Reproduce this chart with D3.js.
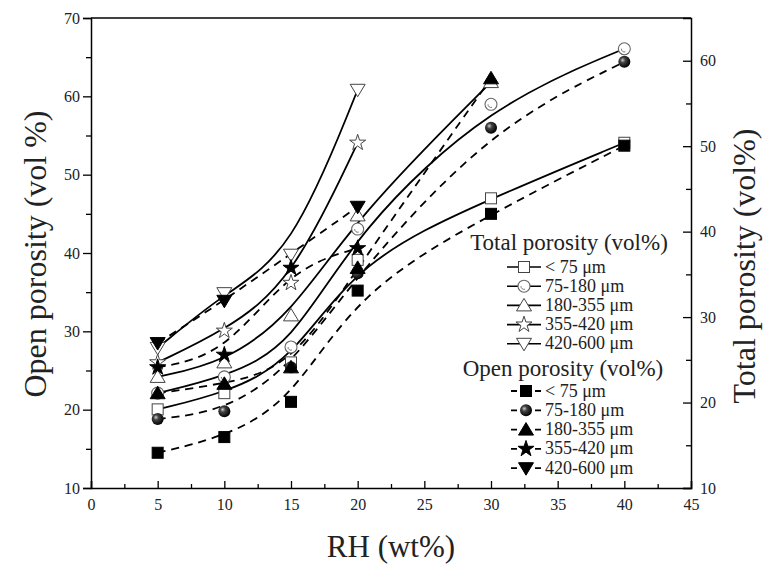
<!DOCTYPE html>
<html>
<head>
<meta charset="utf-8">
<script src="https://cdn.jsdelivr.net/npm/d3@7"></script>
<style>
body{margin:0;background:#fff;}
svg text{font-family:"Liberation Serif","Times New Roman",serif;fill:#222;}
</style>
</head>
<body>
<svg id="chart" width="766" height="567"></svg>
<script>
// ---------- data ----------
const sizeLabels = ["< 75 μm","75-180 μm","180-355 μm","355-420 μm","420-600 μm"];
const rhLt75   = [5,10,15,20,30,40];
const rh75_180 = [5,10,15,20,30,40];
const rh180_355= [5,10,15,20,30];
const rh355_420= [5,10,15,20];
const rh420_600= [5,10,15,20];
const rhOpen420_600 = [5,10,20];

// Total porosity (right axis, vol%)
const totalLt75    = [19.2,21.1,24.7,36.7,43.9,50.4];
const total75_180  = [21.1,23.0,26.5,40.3,54.9,61.4];
const total180_355 = [23.0,24.7,30.2,41.9,57.5];
const total355_420 = [24.7,28.4,34.0,50.4];
const total420_600 = [26.4,32.8,37.3,56.6];

// Open porosity (left axis, vol %)
const openLt75    = [14.5,16.5,21.0,35.2,45.0,53.7];
const open75_180  = [18.8,19.8,25.4,37.4,56.0,64.4];
const open180_355 = [22.1,23.3,25.4,38.1,62.3];
const open355_420 = [25.4,27.0,38.1,40.6];
const open420_600 = [28.5,33.9,45.9];

const xTicks = [0,5,10,15,20,25,30,35,40,45];
const yLeftTicks = [10,20,30,40,50,60,70];
const yRightTicks = [10,20,30,40,50,60];

const markerTypes = ["square","sphere","triangle","star","down"];

const totalSeries = [
  {x:rhLt75, y:totalLt75, m:"square"},
  {x:rh75_180, y:total75_180, m:"sphere"},
  {x:rh180_355, y:total180_355, m:"triangle"},
  {x:rh355_420, y:total355_420, m:"star"},
  {x:rh420_600, y:total420_600, m:"down"}
];
const openSeries = [
  {x:rhLt75, y:openLt75, m:"square"},
  {x:rh75_180, y:open75_180, m:"sphere"},
  {x:rh180_355, y:open180_355, m:"triangle"},
  {x:rh355_420, y:open355_420, m:"star"},
  {x:rhOpen420_600, y:open420_600, m:"down"}
];

// ---------- layout ----------
const svg = d3.select("#chart");
const L=91, R=691, T=18, B=488;
const x = d3.scaleLinear().domain([0,45]).range([L,R]);
const yL = d3.scaleLinear().domain([10,70]).range([B,T]);
const yR = d3.scaleLinear().domain([10,65]).range([B,T]);

const defs = svg.append("defs");
const grad = defs.append("radialGradient").attr("id","sph").attr("cx","40%").attr("cy","40%").attr("r","60%").attr("fx","35%").attr("fy","35%");
grad.append("stop").attr("offset","0%").attr("stop-color","#cfcfcf");
grad.append("stop").attr("offset","35%").attr("stop-color","#444");
grad.append("stop").attr("offset","100%").attr("stop-color","#000");

// ---------- axes ----------
const fs = 16;
// bottom
const xAxis = svg.append("g").attr("transform",`translate(0,${B})`)
  .call(d3.axisBottom(x).tickValues(xTicks).tickSize(-7).tickFormat(d3.format("d")));
svg.append("g").attr("transform",`translate(0,${B})`)
  .call(d3.axisBottom(x).tickValues(d3.range(2.5,45,5)).tickSize(-4).tickFormat(""))
  .select(".domain").remove();
xAxis.selectAll("text").attr("dy","1.2em").style("font-size",fs+"px");
// left
const yAxisL = svg.append("g").attr("transform",`translate(${L},0)`)
  .call(d3.axisLeft(yL).tickValues(yLeftTicks).tickSize(8).tickFormat(d3.format("d")));
svg.append("g").attr("transform",`translate(${L},0)`)
  .call(d3.axisLeft(yL).tickValues(d3.range(15,70,10)).tickSize(5).tickFormat(""))
  .select(".domain").remove();
yAxisL.selectAll("text").style("font-size",fs+"px").attr("x",-11);
// right
const yAxisR = svg.append("g").attr("transform",`translate(${R},0)`)
  .call(d3.axisRight(yR).tickValues(yRightTicks).tickSize(-8).tickFormat(d3.format("d")));
svg.append("g").attr("transform",`translate(${R},0)`)
  .call(d3.axisRight(yR).tickValues(d3.range(15,65,10)).tickSize(-5).tickFormat(""))
  .select(".domain").remove();
yAxisR.selectAll("text").style("font-size",fs+"px").attr("x",9);
// top frame
svg.append("line").attr("x1",L).attr("x2",R).attr("y1",T).attr("y2",T).attr("stroke","#000").attr("stroke-width",1.5);
svg.selectAll(".domain").attr("stroke","#000").attr("stroke-width",1.5);
svg.selectAll(".tick line").attr("stroke","#000").attr("stroke-width",1.3);

// titles
svg.append("text").attr("x",(L+R)/2).attr("y",557).attr("text-anchor","middle").style("font-size","31px").text("RH (wt%)");
svg.append("text").attr("transform","translate(46,254) rotate(-90)").attr("text-anchor","middle").style("font-size","32px").text("Open porosity (vol %)");
svg.append("text").attr("transform","translate(755,266) rotate(-90)").attr("text-anchor","middle").style("font-size","32px").text("Total porosity (vol%)");

// ---------- markers ----------
function drawMarker(g, type, filled, cx, cy){
  const s = g.append("g").attr("transform",`translate(${cx},${cy})`);
  const fill = filled ? "#000" : "#fff";
  const stroke = filled ? "#000" : "#444";
  if(type==="square"){
    s.append("rect").attr("x",-5.5).attr("y",-5.5).attr("width",11).attr("height",11).attr("fill",fill).attr("stroke",stroke).attr("stroke-width",1);
  } else if(type==="sphere"){
    if(filled){
      s.append("circle").attr("r",6).attr("fill","url(#sph)");
    } else {
      s.append("circle").attr("r",6).attr("fill","#fff").attr("stroke","#666").attr("stroke-width",1.1);
      s.append("path").attr("d","M-3,0 A3,3 0 0,0 1,3").attr("fill","none").attr("stroke","#777").attr("stroke-width",1);
    }
  } else if(type==="triangle"){
    s.append("path").attr("d","M0,-7L7.5,5.5L-7.5,5.5Z").attr("fill",fill).attr("stroke",stroke).attr("stroke-width",1);
  } else if(type==="down"){
    s.append("path").attr("d","M0,7L7.5,-5.5L-7.5,-5.5Z").attr("fill",fill).attr("stroke",stroke).attr("stroke-width",1);
  } else if(type==="star"){
    s.append("path").attr("d",d3.symbol(d3.symbolStar, 80)()).attr("fill",fill).attr("stroke",stroke).attr("stroke-width",1);
  }
}

const plot = svg.append("g");
const lineR = d3.line().curve(d3.curveBasis);
// total (solid) on right axis
totalSeries.forEach(s=>{
  const pts = s.x.map((v,i)=>[x(v), yR(s.y[i])]);
  plot.append("path").attr("d",lineR(pts)).attr("fill","none").attr("stroke","#000").attr("stroke-width",1.8);
});
openSeries.forEach(s=>{
  const pts = s.x.map((v,i)=>[x(v), yL(s.y[i])]);
  plot.append("path").attr("d",lineR(pts)).attr("fill","none").attr("stroke","#000").attr("stroke-width",1.8).attr("stroke-dasharray","8,6");
});
totalSeries.forEach(s=>{
  s.x.forEach((v,i)=>drawMarker(plot, s.m, false, x(v), yR(s.y[i])));
});
openSeries.forEach(s=>{
  s.x.forEach((v,i)=>drawMarker(plot, s.m, true, x(v), yL(s.y[i])));
});

// ---------- legend ----------
const lg = svg.append("g");
lg.append("text").attr("x",569).attr("y",250).attr("text-anchor","middle").style("font-size","23px").text("Total porosity (vol%)");
sizeLabels.forEach((lab,i)=>{
  const yy = 267 + i*19.2;
  lg.append("line").attr("x1",507).attr("x2",541).attr("y1",yy).attr("y2",yy).attr("stroke","#000").attr("stroke-width",1.6);
  drawMarker(lg, markerTypes[i], false, 524, yy);
  lg.append("text").attr("x",545).attr("y",yy+5.5).style("font-size","18px").text(lab);
});
lg.append("text").attr("x",563).attr("y",376).attr("text-anchor","middle").style("font-size","23px").text("Open porosity (vol%)");
sizeLabels.forEach((lab,i)=>{
  const yy = 391 + i*19.3;
  lg.append("line").attr("x1",511).attr("x2",541).attr("y1",yy).attr("y2",yy).attr("stroke","#000").attr("stroke-width",1.8).attr("stroke-dasharray","6,6");
  drawMarker(lg, markerTypes[i], true, 526, yy);
  lg.append("text").attr("x",545).attr("y",yy+5.5).style("font-size","18px").text(lab);
});
</script>
</body>
</html>
